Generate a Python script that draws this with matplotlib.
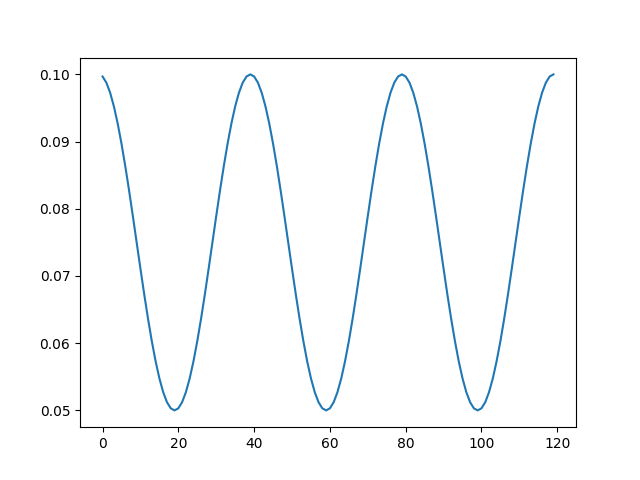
import matplotlib
matplotlib.use("Agg")
import matplotlib.pyplot as plt

lr_values = [
    0.09969, 0.09878, 0.09728, 0.09523, 0.09268, 0.08969, 0.08635, 0.08273, 0.07891, 0.07500,
    0.07109, 0.06727, 0.06365, 0.06031, 0.05732, 0.05477, 0.05272, 0.05122, 0.05031, 0.05000,
    0.05031, 0.05122, 0.05272, 0.05477, 0.05732, 0.06031, 0.06365, 0.06727, 0.07109, 0.07500,
    0.07891, 0.08273, 0.08635, 0.08969, 0.09268, 0.09523, 0.09728, 0.09878, 0.09969, 0.10000,
    0.09969, 0.09878, 0.09728, 0.09523, 0.09268, 0.08969, 0.08635, 0.08273, 0.07891, 0.07500,
    0.07109, 0.06727, 0.06365, 0.06031, 0.05732, 0.05477, 0.05272, 0.05122, 0.05031, 0.05000,
    0.05031, 0.05122, 0.05272, 0.05477, 0.05732, 0.06031, 0.06365, 0.06727, 0.07109, 0.07500,
    0.07891, 0.08273, 0.08635, 0.08969, 0.09268, 0.09523, 0.09728, 0.09878, 0.09969, 0.10000,
    0.09969, 0.09878, 0.09728, 0.09523, 0.09268, 0.08969, 0.08635, 0.08273, 0.07891, 0.07500,
    0.07109, 0.06727, 0.06365, 0.06031, 0.05732, 0.05477, 0.05272, 0.05122, 0.05031, 0.05000,
    0.05031, 0.05122, 0.05272, 0.05477, 0.05732, 0.06031, 0.06365, 0.06727, 0.07109, 0.07500,
    0.07891, 0.08273, 0.08635, 0.08969, 0.09268, 0.09523, 0.09728, 0.09878, 0.09969, 0.10000,
]

fig, ax = plt.subplots(figsize=(6.4, 4.8), dpi=100)
ax.plot(lr_values)
fig.savefig("out.png", dpi=100)
